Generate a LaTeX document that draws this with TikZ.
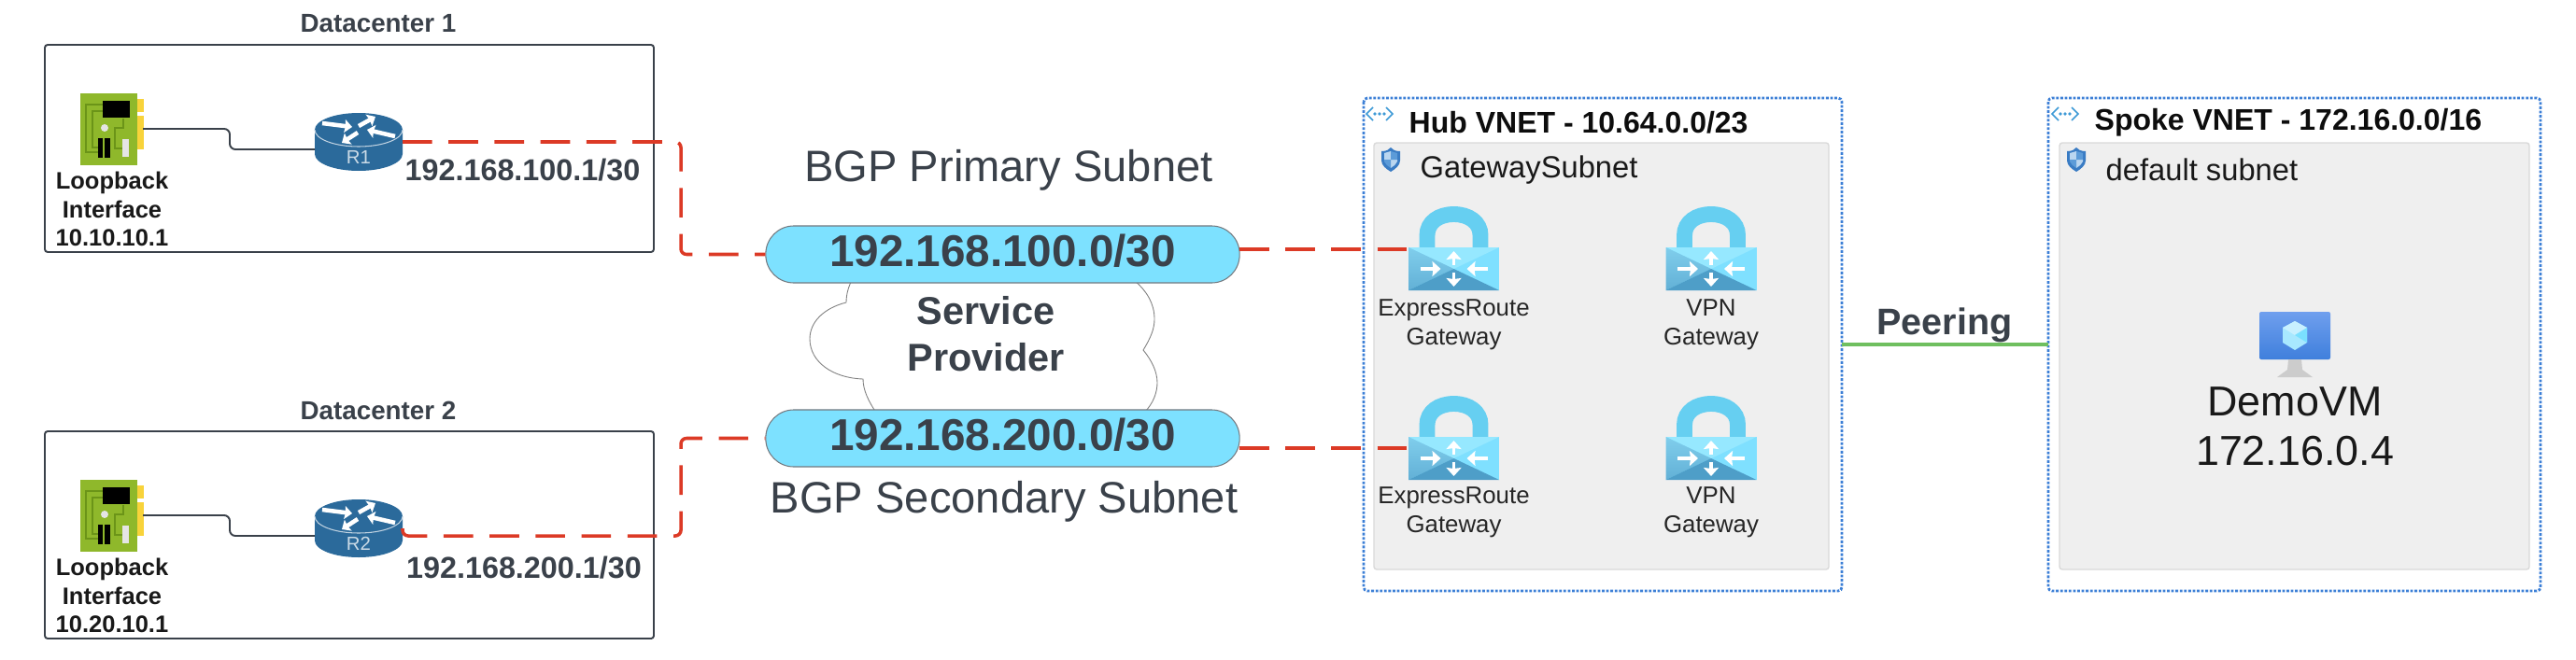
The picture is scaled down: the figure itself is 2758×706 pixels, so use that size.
\documentclass[tikz,border=0pt]{standalone}
\usepackage{fontspec}
\setmainfont{Liberation Sans}
\usepackage{xcolor}
\usetikzlibrary{positioning,calc,arrows.meta}
\definecolor{inkgray}{HTML}{3A414A}
\definecolor{pillblue}{HTML}{7DE1FF}
\definecolor{wanred}{HTML}{DC3A26}
\definecolor{vnetblue}{HTML}{3C7FD6}
\definecolor{routerblue}{HTML}{2B6A9B}
\definecolor{subnetgray}{HTML}{EFEFEF}
\definecolor{cardgreen}{HTML}{8FB82B}
\definecolor{cardtrace}{HTML}{6B9418}
\definecolor{cardgold}{HTML}{F8D33A}
\definecolor{peergreen}{HTML}{6FBF5F}
\definecolor{shackleblue}{HTML}{66CFF1}
\definecolor{locktop}{HTML}{96E8FF}
\definecolor{lockright}{HTML}{7FE0FF}
\definecolor{lockbottom}{HTML}{4E9EC8}
\definecolor{shieldedge}{HTML}{3A7CC4}
\definecolor{shieldlight}{HTML}{BAD6F0}
\definecolor{shieldmid}{HTML}{5C9BD8}
\definecolor{neticonblue}{HTML}{3E9AD6}
\tikzset{
  site/.style={draw=inkgray,line width=0.55pt,rounded corners=0.03cm},
  wanlink/.style={draw=wanred,line width=1pt,dash pattern=on 9pt off 5pt,rounded corners=0.06cm},
  lanlink/.style={draw=inkgray,line width=0.55pt,rounded corners=0.06cm},
  pill/.style={draw=inkgray!70,line width=0.3pt,fill=pillblue,rounded corners=0.3cm,minimum width=5.07cm,minimum height=0.61cm,inner sep=0pt,text depth=2.4pt,text=inkgray,font=\fontsize{13.55}{16}\bfseries\selectfont},
  vnet/.style={draw=vnetblue,line width=0.8pt,dash pattern=on 0.8pt off 0.5pt,rounded corners=0.04cm},
  subnet/.style={draw=black!15,line width=0.4pt,fill=subnetgray,rounded corners=0.03cm},
  sitetitle/.style={text=inkgray,font=\fontsize{7.9}{9.5}\bfseries\selectfont},
  iflabel/.style={align=center,text=black!90,font=\fontsize{7.25}{8.75}\bfseries\selectfont},
  ipbold/.style={text=inkgray,font=\fontsize{9.2}{11}\bfseries\selectfont},
  bgplabel/.style={text=inkgray,font=\fontsize{13.4}{16}\selectfont},
  vnettitle/.style={anchor=west,inner sep=0pt,text=black!95,font=\fontsize{9.1}{11}\bfseries\selectfont},
  subnettitle/.style={anchor=west,inner sep=0pt,text=black!90,font=\fontsize{9.3}{11}\selectfont},
  gwlabel/.style={align=center,text=black!85,font=\fontsize{7.35}{8.85}\selectfont},
  lockarrow/.style={white,line width=1.1pt,-{Stealth[length=0.09cm,width=0.16cm,inset=0.01cm]}},
  routerarrow/.style={white,line width=1.3pt,-{Stealth[length=0.08cm,width=0.14cm,inset=0.01cm]}},
}
% small icons, all drawn in reference pixels from their own origin
\newcommand{\cardicon}[2]{%
  \begin{scope}[shift={(#1,#2)}]
    \fill[cardgold] (147,106) rectangle (154,120);
    \fill[cardgold] (147,124) rectangle (154,160);
    \fill[cardgreen] (86,100) rectangle (147,177);
    \draw[cardtrace,line width=0.8pt] (105,163)--(92,163)--(92,112)--(110,112);
    \draw[cardtrace,line width=0.6pt] (105,158)--(99,158)--(99,119)--(110,119);
    \draw[cardtrace,line width=0.4pt] (132,127)--(132,137)--(123,137)--(123,159)--(131,159);
    \fill[black] (110,108) rectangle (139,126);
    \fill[black] (105,148) rectangle (110,169);
    \fill[black] (112,148) rectangle (118,169);
    \fill[black!10] (131,149) rectangle (138,168);
    \fill[black!10] (112,137) circle (0.04cm);
  \end{scope}}
\newcommand{\routericon}[4]{%
  \begin{scope}[shift={(#1,#2)}]
    \fill[routerblue] (-47,0) -- (-47,26) .. controls (-47,36) and (-26,44) .. (0,44) .. controls (26,44) and (47,36) .. (47,26) -- (47,0) -- cycle;
    \fill[routerblue] (0,0) ellipse [x radius=47,y radius=18];
    \draw[white!70!routerblue,line width=0.3pt] (-47,0) .. controls (-47,10) and (-26,18) .. (0,18) .. controls (26,18) and (47,10) .. (47,0);
    \draw[routerarrow] (-39,-7) -- (-7,-3);
    \draw[routerarrow] (0,-4) -- (18,-14);
    \draw[routerarrow] (39,7) -- (9,0);
    \draw[routerarrow] (-1,3) -- (-18,14);
    \node[text=white!75!routerblue,inner sep=0pt,font=\fontsize{5.8}{7}\selectfont] (#3) at (0,29) {#4};
    \coordinate (#3w) at (-47,21);
    \coordinate (#3e) at (47,13);
  \end{scope}}
\newcommand{\lockicon}[2]{%
  \begin{scope}[shift={(#1,#2)}]
    \draw[shackleblue,line width=4.8pt] (-28.5,-20) -- (-28.5,-36) .. controls (-28.5,-50) and (-16,-58.5) .. (0,-58.5) .. controls (16,-58.5) and (28.5,-50) .. (28.5,-36) -- (28.5,-20);
    \fill[lockright] (-48.5,-23) rectangle (48.5,23);
    \fill[locktop] (-48.5,-23) -- (48.5,-23) -- (0,0) -- cycle;
    \shade[top color={rgb,255:red,128;green,206;blue,236},bottom color={rgb,255:red,98;green,176;blue,214}] (-48.5,-23) -- (0,0) -- (-48.5,23) -- cycle;
    \fill[lockbottom] (-48.5,23) -- (0,0) -- (48.5,23) -- cycle;
    \draw[lockarrow] (0,-4) -- (0,-19);
    \draw[lockarrow] (0,4) -- (0,19);
    \draw[lockarrow] (-36,0) -- (-14,0);
    \draw[lockarrow] (36,0) -- (14,0);
  \end{scope}}
\newcommand{\shieldicon}[2]{%
  \begin{scope}[shift={(#1,#2)}]
    \fill[shieldedge] (-10,-9) .. controls (-4,-9) and (-2,-11) .. (0,-13) .. controls (2,-11) and (4,-9) .. (10,-9) -- (10,1) .. controls (10,6) and (5,10) .. (0,13) .. controls (-5,10) and (-10,6) .. (-10,1) -- cycle;
    \fill[shieldlight] (-7,-7) -- (0,-9) -- (0,0) -- (-7,0) -- cycle;
    \fill[shieldlight] (0,0) -- (7,0) -- (7,2) .. controls (6,5) and (3,7) .. (0,9) -- cycle;
    \fill[shieldmid] (0,-9) -- (7,-7) -- (7,0) -- (0,0) -- cycle;
    \fill[shieldmid] (-7,0) -- (0,0) -- (0,9) .. controls (-3,7) and (-6,5) .. (-7,2) -- cycle;
  \end{scope}}
\newcommand{\neticon}[2]{%
  \begin{scope}[shift={(#1,#2)},color=neticonblue]
    \draw[line width=0.45pt] (-7,-7) -- (-14,0) -- (-7,7);
    \draw[line width=0.45pt] (7,-7) -- (14,0) -- (7,7);
    \foreach \dx in {-5,0,5} \fill (\dx,0) circle (0.018cm);
  \end{scope}}
\begin{document}
\begin{tikzpicture}[x=0.01cm,y=-0.01cm]
\useasboundingbox (0,0) rectangle (2758,706);
% service provider cloud goes under the pills
\draw[draw=black!50,line width=0.25pt,fill=white] (912,300) .. controls (908,308) and (906,316) .. (906,324) .. controls (882,330) and (867,345) .. (867,363) .. controls (867,388) and (892,405) .. (924,406) .. controls (924,418) and (930,430) .. (938,442) -- (1225,442) .. controls (1235,432) and (1239,420) .. (1239,410) .. controls (1239,398) and (1233,386) .. (1224,375) .. controls (1232,362) and (1236,352) .. (1236,342) .. controls (1236,325) and (1228,312) .. (1214,300) -- cycle;
\node[align=center,text=inkgray,font=\fontsize{11.8}{14.2}\bfseries\selectfont] (provider) at (1055.5,358) {Service\\Provider};
% datacenters
\node[sitetitle] (dc1title) at (405,25) {Datacenter 1};
\node[sitetitle] (dc2title) at (405,440) {Datacenter 2};
\draw[site] (48,48) rectangle (700,270);
\draw[site] (48,462) rectangle (700,684);
\cardicon{0}{0}
\cardicon{0}{414}
\routericon{384}{139}{r1}{R1}
\routericon{384}{553}{r2}{R2}
\coordinate (card1) at (153,138);
\coordinate (card2) at (153,552);
\draw[lanlink] (card1) -- (246,138) -- (246,160) -- (r1w);
\draw[lanlink] (card2) -- (246,552) -- (246,574) -- (r2w);
\node[iflabel] (lo1) at (120,224) {Loopback\\Interface\\10.10.10.1};
\node[iflabel] (lo2) at (120,638) {Loopback\\Interface\\10.20.10.1};
\node[ipbold] (ip1) at (559.5,182) {192.168.100.1/30};
\node[ipbold] (ip2) at (561,608) {192.168.200.1/30};
% subnets in the middle
\node[bgplabel] (bgp1) at (1080,182) {BGP Primary Subnet};
\node[bgplabel] (bgp2) at (1075,537) {BGP Secondary Subnet};
\node[pill] (pa) at (1073.5,272.5) {192.168.100.0/30};
\node[pill] (pb) at (1073.5,469.5) {192.168.200.0/30};
% vnets
\draw[vnet] (1460,105) rectangle (1972,633);
\draw[subnet] (1471,153) rectangle (1958,610);
\draw[vnet] (2193,105) rectangle (2720,633);
\draw[subnet] (2205,153) rectangle (2708,610);
\neticon{1477}{122}
\neticon{2211}{122}
\shieldicon{1489}{171}
\shieldicon{2223}{171}
\node[vnettitle] (hub) at (1508,131) {Hub VNET - 10.64.0.0/23};
\node[vnettitle] (spoke) at (2242,131) {Spoke VNET - 172.16.0.0/16};
\node[subnettitle] (gwsub) at (1520,182) {GatewaySubnet};
\node[subnettitle] (defsub) at (2254,182) {default subnet};
% the links are drawn before the locks
\coordinate (r1out) at (729,152);
\coordinate (r2out) at (729,574);
\coordinate (paout) at (1327,267);
\coordinate (pbout) at (1327,480);
\coordinate (er1in) at (1512,267);
\coordinate (er2in) at (1512,480);
\draw[wanlink] (r1e) -- (r1out) -- (r1out |- pa.west) -- (pa.west);
\draw[wanlink] (r2e) -- (r2e |- r2w) -- (r2out) -- (r2out |- pb.west) -- (pb.west);
\draw[wanlink] (paout) -- (er1in);
\draw[wanlink] (pbout) -- (er2in);
\foreach \cx/\lab in {1556.5/ExpressRoute,1832/VPN}{
  \foreach \cy/\ly in {288/348,491/549}{
    \lockicon{\cx}{\cy}
    \node[gwlabel] at (\cx,\ly) {\lab\\Gateway};
  }
}
% peering
\draw[draw=peergreen,line width=0.9pt] (1972,369) -- (2193,369);
\node[text=inkgray,font=\fontsize{11.25}{13.5}\bfseries\selectfont] (peer) at (2082,348) {Peering};
% the vm
\shade[top color={rgb,255:red,111;green,159;blue,238},bottom color={rgb,255:red,63;green,127;blue,220},rounded corners=0.02cm] (2419,334) rectangle (2495,385);
\fill[black!20] (2450,385) -- (2464,385) -- (2465,396) -- (2476,404) -- (2438,404) -- (2449,396) -- cycle;
\fill[color={rgb,255:red,168;green,232;blue,255}] (2457,344) -- (2470,351) -- (2470,367) -- (2457,375) -- (2444,367) -- (2444,351) -- cycle;
\fill[color={rgb,255:red,200;green,240;blue,255}] (2457,344) -- (2470,351) -- (2457,359) -- (2444,351) -- cycle;
\fill[color={rgb,255:red,122;green,224;blue,255}] (2470,351) -- (2470,367) -- (2457,359) -- cycle;
\node[align=center,text=black!90,font=\fontsize{12.75}{15}\selectfont] (vm) at (2457,457) {DemoVM\\172.16.0.4};
\end{tikzpicture}
\end{document}
